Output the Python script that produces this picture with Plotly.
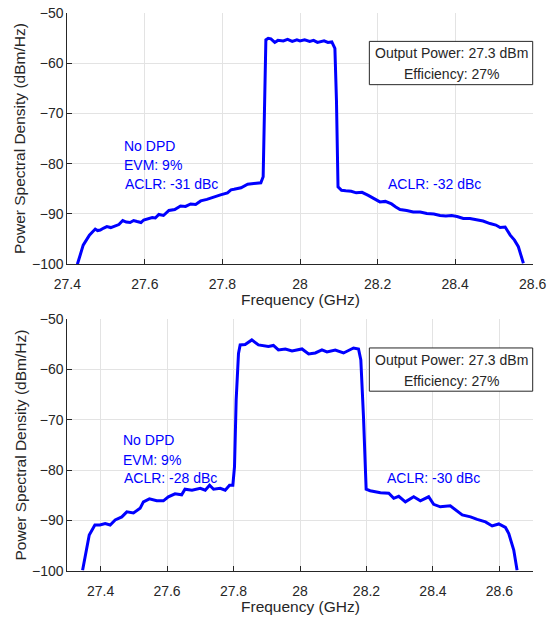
import plotly.graph_objects as go

# ---- Data ----
freq_top = [27.426, 27.441, 27.457, 27.472, 27.478, 27.485, 27.494, 27.502, 27.512, 27.524,
            27.533, 27.543, 27.552, 27.562, 27.571, 27.580, 27.590, 27.597, 27.608, 27.619,
            27.627, 27.636, 27.648, 27.662, 27.677, 27.692, 27.705, 27.718, 27.731, 27.744,
            27.760, 27.778, 27.795, 27.813, 27.822, 27.830, 27.848, 27.865, 27.885, 27.899,
            27.905, 27.908, 27.912, 27.918, 27.925, 27.935, 27.943, 27.957, 27.968, 27.980,
            27.992, 28.000, 28.012, 28.025, 28.035, 28.045, 28.052, 28.062, 28.072, 28.082,
            28.090, 28.094, 28.098, 28.107, 28.118, 28.132, 28.145, 28.160, 28.176, 28.190,
            28.206, 28.220, 28.236, 28.247, 28.258, 28.275, 28.292, 28.310, 28.327, 28.345,
            28.361, 28.376, 28.391, 28.405, 28.421, 28.438, 28.456, 28.472, 28.490, 28.505,
            28.516, 28.529, 28.542, 28.553, 28.563, 28.576]
psd_top = [-100.0, -96.2, -94.2, -93.0, -93.3, -93.2, -92.8, -92.5, -92.7, -92.4,
           -92.1, -91.3, -91.6, -91.7, -91.3, -91.5, -91.7, -91.2, -91.0, -90.7,
           -90.8, -90.1, -90.3, -89.3, -89.1, -88.4, -88.5, -88.0, -88.1, -87.4,
           -87.1, -86.6, -86.2, -85.8, -85.2, -85.1, -84.8, -84.1, -84.0, -83.8,
           -82.6, -67.4, -55.4, -55.1, -55.2, -55.9, -55.5, -55.6, -55.3, -55.7,
           -55.4, -55.6, -55.4, -55.7, -55.5, -55.9, -55.8, -55.6, -55.9, -55.8,
           -57.1, -67.4, -84.6, -85.3, -85.4, -85.5, -85.8, -85.7, -86.3, -86.9,
           -87.6, -87.5, -88.0, -88.6, -89.1, -89.3, -89.6, -89.6, -89.9, -90.0,
           -90.3, -90.4, -90.3, -90.5, -90.9, -90.9, -91.2, -91.4, -91.9, -92.2,
           -92.7, -92.6, -94.2, -95.2, -96.5, -99.8]

freq_bot = [27.346, 27.356, 27.366, 27.383, 27.398, 27.414, 27.429, 27.444, 27.464, 27.479,
            27.499, 27.519, 27.529, 27.547, 27.569, 27.589, 27.604, 27.624, 27.644, 27.654,
            27.675, 27.700, 27.715, 27.728, 27.740, 27.760, 27.775, 27.788, 27.798, 27.803,
            27.808, 27.815, 27.820, 27.835, 27.855, 27.875, 27.905, 27.920, 27.935, 27.956,
            27.976, 28.006, 28.026, 28.046, 28.066, 28.081, 28.106, 28.131, 28.161, 28.176,
            28.183, 28.191, 28.199, 28.211, 28.242, 28.267, 28.282, 28.297, 28.317, 28.342,
            28.362, 28.387, 28.402, 28.422, 28.452, 28.488, 28.513, 28.533, 28.558, 28.578,
            28.598, 28.618, 28.628, 28.643, 28.653]
psd_bot = [-99.9, -96.6, -92.9, -90.9, -90.9, -90.6, -90.9, -89.9, -89.3, -88.3,
           -88.5, -87.6, -86.3, -85.7, -86.1, -86.1, -85.3, -84.7, -84.9, -83.8,
           -84.0, -83.6, -84.0, -83.0, -83.8, -83.6, -84.0, -83.0, -83.0, -79.3,
           -66.0, -56.8, -55.1, -55.0, -54.1, -55.1, -55.4, -55.2, -56.1, -55.9,
           -56.3, -55.9, -56.9, -56.7, -56.1, -56.5, -56.1, -56.7, -55.7, -55.9,
           -58.1, -69.4, -83.8, -84.1, -84.5, -84.6, -85.6, -85.2, -86.3, -85.3,
           -86.1, -85.3, -86.8, -87.3, -87.1, -88.9, -89.3, -89.8, -90.3, -91.1,
           -90.7, -91.4, -92.6, -95.9, -99.9]

x_ticks = [27.4, 27.6, 27.8, 28.0, 28.2, 28.4, 28.6]
x_ticklabels = ["27.4", "27.6", "27.8", "28", "28.2", "28.4", "28.6"]
y_ticks = [-100, -90, -80, -70, -60, -50]
x_range_top = [27.4, 28.6]
x_range_bot = [27.3, 28.7]
y_range = [-100, -50]

left_labels = ["No DPD", "EVM: 9%"]
aclr_left = ["ACLR: -31 dBc", "ACLR: -28 dBc"]
aclr_right = ["ACLR: -32 dBc", "ACLR: -30 dBc"]
box_lines = ["Output Power: 27.3 dBm", "Efficiency: 27%"]
x_title = "Frequency (GHz)"
y_title = "Power Spectral Density (dBm/Hz)"

# ---- Figure ----
W, H = 547, 619
FONT = "Liberation Sans, Arial, sans-serif"
TXT = "#262626"
BLUE = "#0000ff"

fig = go.Figure()
fig.add_trace(go.Scatter(x=freq_top, y=psd_top, mode="lines",
                         line=dict(color=BLUE, width=3), xaxis="x", yaxis="y",
                         showlegend=False, hoverinfo="skip"))
fig.add_trace(go.Scatter(x=freq_bot, y=psd_bot, mode="lines",
                         line=dict(color=BLUE, width=3), xaxis="x2", yaxis="y2",
                         showlegend=False, hoverinfo="skip"))

x_dom = [67.3 / W, 532.7 / W]
top_dom = [1 - 264.3 / H, 1 - 12.7 / H]
bot_dom = [1 - 570.7 / H, 1 - 319.3 / H]

axis_common = dict(showgrid=True, gridcolor="#e3e3e3", gridwidth=1,
                   showline=True, linecolor=TXT, linewidth=1,
                   ticks="inside", ticklen=5, tickcolor=TXT,
                   tickfont=dict(family=FONT, size=14, color=TXT),
                   zeroline=False, automargin=False, fixedrange=True)

fig.update_layout(
    width=W, height=H,
    margin=dict(l=0, r=0, t=0, b=0),
    paper_bgcolor="white", plot_bgcolor="white",
    xaxis=dict(domain=x_dom, range=x_range_top, anchor="y", ticklabelstandoff=7,
               tickvals=x_ticks, ticktext=x_ticklabels, **axis_common),
    yaxis=dict(domain=top_dom, range=y_range, anchor="x",
               tickvals=y_ticks, **axis_common),
    xaxis2=dict(domain=x_dom, range=x_range_bot, anchor="y2", ticklabelstandoff=7,
                tickvals=x_ticks, ticktext=x_ticklabels, **axis_common),
    yaxis2=dict(domain=bot_dom, range=y_range, anchor="x2",
                tickvals=y_ticks, **axis_common),
)

ann = []
shapes = []
# axis titles
for ydom, xt_y in [(top_dom, 299.0), (bot_dom, 606.0)]:
    ann.append(dict(text=x_title, xref="paper", yref="paper",
                    x=(x_dom[0] + x_dom[1]) / 2, y=1 - xt_y / H,
                    xanchor="center", yanchor="middle", showarrow=False,
                    font=dict(family=FONT, size=15.5, color=TXT)))
    ann.append(dict(text=y_title, xref="paper", yref="paper",
                    x=19.5 / W, y=(ydom[0] + ydom[1]) / 2, textangle=-90,
                    xanchor="center", yanchor="middle", showarrow=False,
                    font=dict(family=FONT, size=15.5, color=TXT)))

# blue annotations
specs = [
    ("x", "y", [(27.542, -76.5), (27.542, -80.3), (27.544, -84.0)], (28.221, -84.0), 0),
    ("x2", "y2", [(27.462, -74.0), (27.462, -78.0), (27.465, -81.6)], (28.255, -81.6), 1),
]
for xr, yr, pts, rpt, i in specs:
    texts = left_labels + [aclr_left[i]]
    for (px, py), t in zip(pts, texts):
        ann.append(dict(text=t, xref=xr, yref=yr, x=px, y=py, xanchor="left",
                        yanchor="middle", showarrow=False,
                        font=dict(family=FONT, size=14, color=BLUE)))
    ann.append(dict(text=aclr_right[i], xref=xr, yref=yr, x=rpt[0], y=rpt[1],
                    xanchor="left", yanchor="middle", showarrow=False,
                    font=dict(family=FONT, size=14, color=BLUE)))
    # info box
    xd = xr + " domain"
    yd = yr + " domain"
    shapes.append(dict(type="rect", xref=xd, yref=yd, x0=0.649, x1=1.0,
                       y0=0.714, y1=0.886, line=dict(color=TXT, width=1),
                       fillcolor="white", layer="above"))
    for yy, t in zip([0.8386, 0.7564], box_lines):
        ann.append(dict(text=t, xref=xd, yref=yd, x=0.8245, y=yy,
                        xanchor="center", yanchor="middle", showarrow=False,
                        font=dict(family=FONT, size=14, color=TXT)))

fig.update_layout(annotations=ann, shapes=shapes)
fig.write_html("out.html")
